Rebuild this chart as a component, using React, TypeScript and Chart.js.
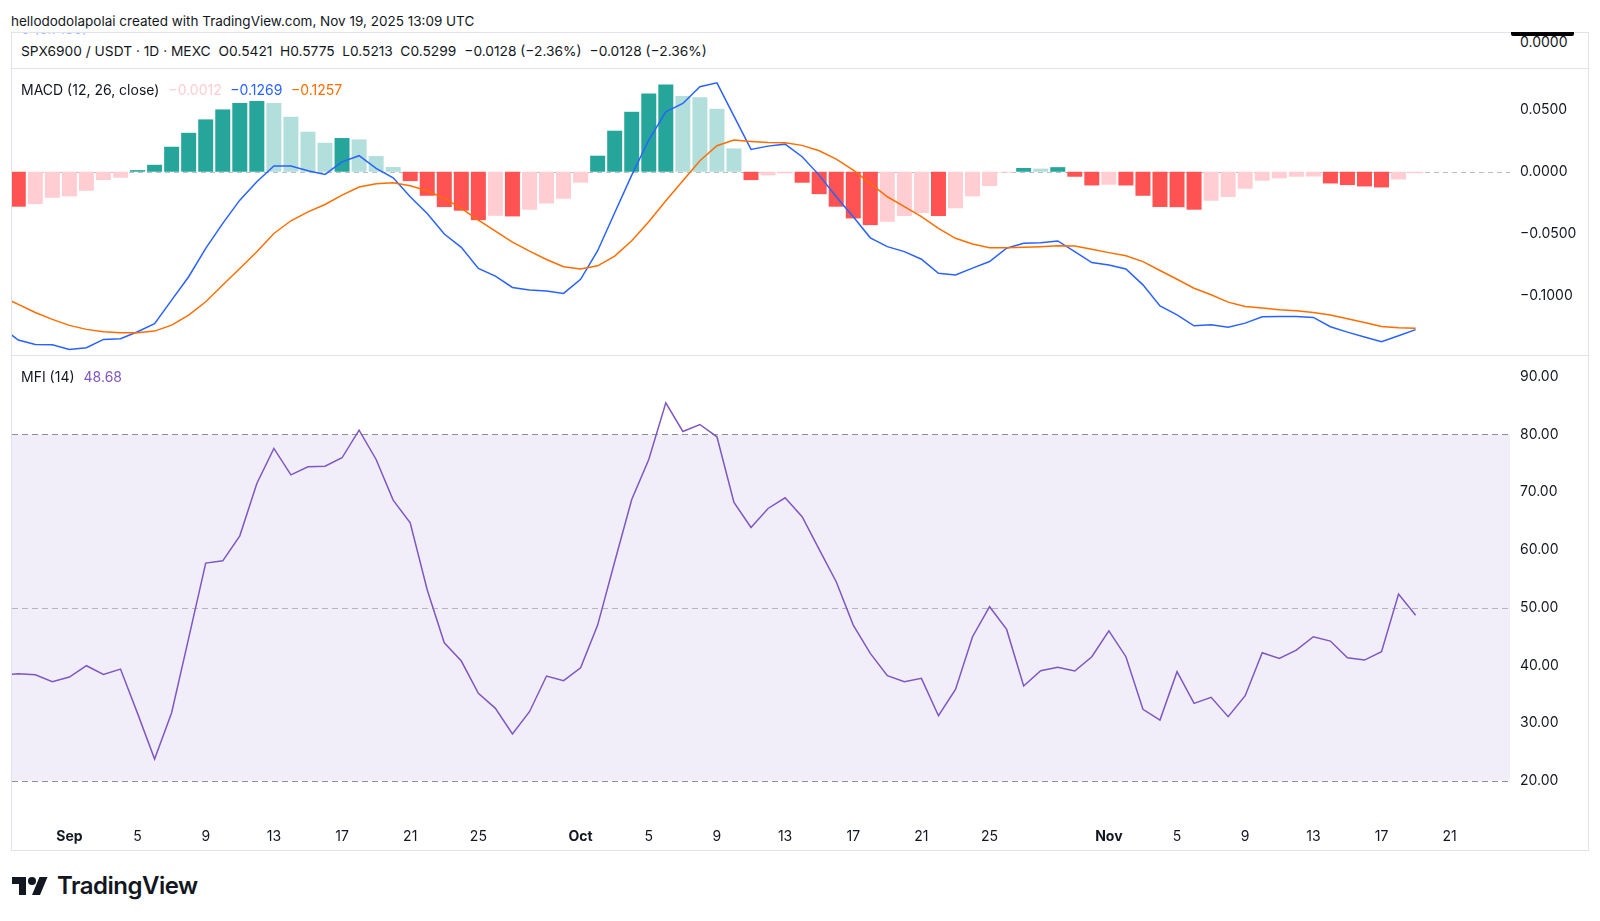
import React, { useEffect, useRef } from "react";
import { Chart, registerables } from "chart.js";

Chart.register(...registerables);

const FONT = "Inter, 'Noto Sans', sans-serif";
const TEXT = "#131722";

// Daily candles, first one on this date
const FIRST_DAY = "2025-08-28";

const MACD_HIST: (number | null)[] = [
  null, -0.0281, -0.026, -0.0209, -0.0198, -0.0153, -0.0067, -0.0048, 0.0013, 0.0056,
  0.0201, 0.0313, 0.0421, 0.0501, 0.0552, 0.0568, 0.0552, 0.0442, 0.0322, 0.0233,
  0.0271, 0.026, 0.0126, 0.0038, -0.0075, -0.0193, -0.0284, -0.0313, -0.0389, -0.0354,
  -0.0359, -0.0305, -0.0255, -0.0217, -0.0088, 0.0129, 0.033, 0.0482, 0.063, 0.0702,
  0.0608, 0.0598, 0.0506, 0.0188, -0.0067, -0.0029, -0.0013, -0.0088, -0.018, -0.0281,
  -0.0375, -0.0429, -0.0402, -0.0356, -0.0332, -0.0356, -0.0294, -0.0198, -0.0115, -0.0006,
  0.003, 0.0025, 0.0037, -0.004, -0.011, -0.0104, -0.011, -0.0193, -0.0283, -0.0285,
  -0.0305, -0.0233, -0.0203, -0.0136, -0.0072, -0.0053, -0.004, -0.0038, -0.0094, -0.0107,
  -0.0118, -0.0126, -0.0062, -0.0012,
];

const MACD_LINE: number[] = [
  -0.1246, -0.1353, -0.1388, -0.1391, -0.1428, -0.1415, -0.1348, -0.1342, -0.1286, -0.1222,
  -0.1032, -0.0844, -0.0616, -0.0415, -0.0228, -0.008, 0.0046, 0.0046, 0.0008, -0.0021,
  0.008, 0.0129, 0.0027, -0.0048, -0.0201, -0.0335, -0.0501, -0.0608, -0.0777, -0.0839,
  -0.093, -0.0951, -0.0959, -0.0978, -0.0865, -0.0635, -0.033, -0.0027, 0.0255, 0.0482,
  0.0549, 0.0683, 0.0715, 0.0447, 0.018, 0.0206, 0.0222, 0.0121, -0.0027, -0.0201,
  -0.0362, -0.0531, -0.0602, -0.0642, -0.0703, -0.0816, -0.0829, -0.0775, -0.0722, -0.0615,
  -0.0575, -0.057, -0.0556, -0.0642, -0.073, -0.0749, -0.0781, -0.0909, -0.1078, -0.115,
  -0.1238, -0.123, -0.1249, -0.1217, -0.1166, -0.1163, -0.1163, -0.1171, -0.1246, -0.1289,
  -0.1329, -0.1366, -0.1318, -0.1269,
];

const MACD_SIGNAL: number[] = [
  -0.0999, -0.1066, -0.1131, -0.1187, -0.1235, -0.1267, -0.1286, -0.1294, -0.1294, -0.1281,
  -0.1233, -0.1152, -0.1045, -0.0911, -0.0777, -0.0643, -0.0496, -0.0394, -0.0322, -0.0263,
  -0.0188, -0.0123, -0.0096, -0.0088, -0.0112, -0.0153, -0.0214, -0.0295, -0.0389, -0.0477,
  -0.0565, -0.0638, -0.0705, -0.0764, -0.0782, -0.0756, -0.0678, -0.0555, -0.0402, -0.0233,
  -0.0072, 0.0088, 0.0209, 0.0255, 0.0244, 0.0236, 0.0233, 0.0212, 0.0169, 0.0102,
  0.0013, -0.0094, -0.0201, -0.0281, -0.0361, -0.0455, -0.0535, -0.058, -0.061, -0.061,
  -0.0607, -0.0602, -0.0594, -0.0596, -0.0623, -0.065, -0.0676, -0.0722, -0.0794, -0.0864,
  -0.0936, -0.0989, -0.1048, -0.1083, -0.1096, -0.111, -0.1118, -0.1131, -0.1152, -0.1182,
  -0.1211, -0.1243, -0.1254, -0.1257,
];

const MFI_VALUES: number[] = [
  38.3, 38.55, 38.37, 37.16, 37.97, 39.93, 38.43, 39.35, 31.67, 23.76,
  31.79, 44.7, 57.71, 58.11, 62.44, 71.51, 77.58, 73.01, 74.4, 74.51,
  75.96, 80.75, 75.67, 68.63, 64.7, 53.04, 43.91, 40.74, 35.14, 32.54,
  28.09, 31.96, 38.14, 37.33, 39.58, 46.97, 57.94, 68.74, 75.67, 85.48,
  80.52, 81.73, 79.6, 68.22, 63.89, 67.18, 69.03, 65.74, 60.08, 54.48,
  46.97, 42.07, 38.2, 37.16, 37.74, 31.27, 35.83, 44.95, 50.15, 46.22,
  36.41, 39.06, 39.64, 39.01, 41.49, 45.99, 41.49, 32.37, 30.52, 38.89,
  33.41, 34.45, 31.1, 34.74, 42.18, 41.2, 42.64, 44.95, 44.2, 41.32,
  40.91, 42.36, 52.34, 48.68,
];

const X_TICK_DATES = [
  "2025-09-01", "2025-09-05", "2025-09-09", "2025-09-13", "2025-09-17", "2025-09-21", "2025-09-25",
  "2025-10-01", "2025-10-05", "2025-10-09", "2025-10-13", "2025-10-17", "2025-10-21", "2025-10-25",
  "2025-11-01", "2025-11-05", "2025-11-09", "2025-11-13", "2025-11-17", "2025-11-21",
];
const X_TICK_LABELS = [
  "Sep", "5", "9", "13", "17", "21", "25",
  "Oct", "5", "9", "13", "17", "21", "25",
  "Nov", "5", "9", "13", "17", "21",
];
const MONTH_LABELS = ["Sep", "Oct", "Nov"];

const MACD_TICKS = [0.05, 0, -0.05, -0.1];
const MFI_TICKS = [90, 80, 70, 60, 50, 40, 30, 20];
const MFI_LEVELS = [80, 50, 20];
const MFI_BAND = [20, 80];

// visible ranges
const X_MIN = 0.632;
const X_MAX = 88.54;
const MACD_MIN = -0.1473;
const MACD_MAX = 0.0826;
const MFI_MIN = 14.06;
const MFI_MAX = 93.6;

const dayIndex = (d: string) =>
  Math.round((Date.parse(d + "T00:00:00Z") - Date.parse(FIRST_DAY + "T00:00:00Z")) / 86400000);

const fmtSigned = (v: number, digits: number) => {
  const r = Number(v.toFixed(digits));
  return (r < 0 ? "\u2212" : "") + Math.abs(r).toFixed(digits);
};

const histColors = MACD_HIST.map((v, i) => {
  if (v == null) return "rgba(0,0,0,0)";
  const prev = i > 0 ? MACD_HIST[i - 1] : null;
  const rising = prev != null && prev < v;
  if (v >= 0) return rising ? "#26A69A" : "#B2DFDB";
  return rising ? "#FFCDD2" : "#FF5252";
});

const xScaleBase = (display: boolean): any => ({
  type: "linear",
  min: X_MIN,
  max: X_MAX,
  offset: false,
  display,
  grid: { display: false, drawTicks: false },
  border: { display: false },
  afterBuildTicks: (axis: any) => {
    axis.ticks = X_TICK_DATES.map((d) => ({ value: dayIndex(d) }));
  },
  afterFit: (axis: any) => {
    axis.height = display ? 35 : 0;
    axis.paddingLeft = 0;
    axis.paddingRight = 0;
  },
  ticks: {
    autoSkip: false,
    maxRotation: 0,
    padding: 13,
    color: TEXT,
    font: (ctx: any) => ({
      family: FONT,
      size: 14,
      weight: MONTH_LABELS.includes(X_TICK_LABELS[ctx.index]) ? "bold" : "normal",
    }),
    callback: (_v: any, i: number) => X_TICK_LABELS[i],
  },
});

const yScaleBase = (min: number, max: number, ticks: number[], fmt: (v: number) => string): any => ({
  position: "right",
  min,
  max,
  grid: { display: false, drawTicks: false },
  border: { display: false },
  afterBuildTicks: (axis: any) => {
    axis.ticks = ticks.map((v) => ({ value: v }));
  },
  afterFit: (axis: any) => {
    axis.width = 78;
    axis.paddingTop = 0;
    axis.paddingBottom = 0;
  },
  ticks: {
    padding: 10,
    color: TEXT,
    font: { family: FONT, size: 14 },
    callback: (v: any) => fmt(Number(v)),
  },
});

const macdZeroPlugin = {
  id: "macdZero",
  beforeDatasetsDraw(chart: any) {
    const { ctx, chartArea: a, scales } = chart;
    const py = Math.round(scales.y.getPixelForValue(0)) + 0.5;
    ctx.save();
    ctx.setLineDash([5, 4]);
    ctx.lineWidth = 1;
    ctx.strokeStyle = "rgba(120,123,134,0.5)";
    ctx.beginPath();
    ctx.moveTo(a.left, py);
    ctx.lineTo(a.right, py);
    ctx.stroke();
    ctx.restore();
  },
};

const mfiBandPlugin = {
  id: "mfiBand",
  beforeDatasetsDraw(chart: any) {
    const { ctx, chartArea: a, scales } = chart;
    const y = scales.y;
    const top = y.getPixelForValue(MFI_BAND[1]);
    const bot = y.getPixelForValue(MFI_BAND[0]);
    ctx.save();
    ctx.fillStyle = "rgba(126,87,194,0.1)";
    ctx.fillRect(a.left, top, a.right - a.left, bot - top);
    ctx.setLineDash([6, 4]);
    ctx.lineWidth = 1;
    MFI_LEVELS.forEach((lv) => {
      const py = Math.round(y.getPixelForValue(lv)) + 0.5;
      ctx.strokeStyle = lv === 50 ? "rgba(120,123,134,0.5)" : "rgba(120,123,134,0.85)";
      ctx.beginPath();
      ctx.moveTo(a.left, py);
      ctx.lineTo(a.right, py);
      ctx.stroke();
    });
    ctx.restore();
  },
};

export default function App() {
  const macdRef = useRef<HTMLCanvasElement>(null);
  const mfiRef = useRef<HTMLCanvasElement>(null);

  useEffect(() => {
    const histData = MACD_HIST.map((v, i) => ({ x: i, y: v })).filter((p) => p.y != null);
    const histCols = MACD_HIST.map((v, i) => ({ v, c: histColors[i] })).filter((p) => p.v != null).map((p) => p.c);

    const macdChart = new Chart(macdRef.current!, {
      type: "bar",
      data: {
        datasets: [
          {
            type: "line",
            data: MACD_SIGNAL.map((v, i) => ({ x: i, y: v })),
            borderColor: "#FF6D00",
            borderWidth: 1.5,
            pointRadius: 0,
            tension: 0,
            order: 0,
          } as any,
          {
            type: "line",
            data: MACD_LINE.map((v, i) => ({ x: i, y: v })),
            borderColor: "#2962FF",
            borderWidth: 1.5,
            pointRadius: 0,
            tension: 0,
            order: 1,
          } as any,
          {
            type: "bar",
            data: histData,
            backgroundColor: histCols,
            borderWidth: 0,
            barPercentage: 0.88,
            categoryPercentage: 1,
            clip: 0,
            order: 2,
          } as any,
        ],
      },
      options: {
        responsive: false,
        animation: false,
        events: [],
        layout: { padding: 0 },
        plugins: { legend: { display: false }, tooltip: { enabled: false } },
        scales: {
          x: xScaleBase(false),
          y: yScaleBase(MACD_MIN, MACD_MAX, MACD_TICKS, (v) => fmtSigned(v, 4)),
        },
      } as any,
      plugins: [macdZeroPlugin],
    });

    const mfiChart = new Chart(mfiRef.current!, {
      type: "line",
      data: {
        datasets: [
          {
            data: MFI_VALUES.map((v, i) => ({ x: i, y: v })),
            borderColor: "#7E57C2",
            borderWidth: 1.5,
            pointRadius: 0,
            tension: 0,
          },
        ],
      },
      options: {
        responsive: false,
        animation: false,
        events: [],
        layout: { padding: 0 },
        plugins: { legend: { display: false }, tooltip: { enabled: false } },
        scales: {
          x: xScaleBase(true),
          y: yScaleBase(MFI_MIN, MFI_MAX, MFI_TICKS, (v) => v.toFixed(2)),
        },
      } as any,
      plugins: [mfiBandPlugin],
    });

    return () => {
      macdChart.destroy();
      mfiChart.destroy();
    };
  }, []);

  const abs = (s: React.CSSProperties): React.CSSProperties => ({ position: "absolute", ...s });
  const sep = "#E0E3EB";

  return (
    <div
      style={{
        position: "fixed",
        left: 0,
        top: 0,
        width: 1600,
        height: 921,
        background: "#fff",
        fontFamily: FONT,
        color: TEXT,
        overflow: "hidden",
      }}
    >
      <div style={abs({ left: 11, top: 12, fontSize: 13.5, lineHeight: "18px", whiteSpace: "nowrap" })}>
        hellododolapolai created with TradingView.com, Nov 19, 2025 13:09 UTC
      </div>

      {/* frame */}
      <div
        style={abs({
          left: 11,
          top: 32,
          width: 1578,
          height: 819,
          border: `1px solid ${sep}`,
          boxSizing: "border-box",
        })}
      />
      <div style={abs({ left: 21, top: 33, height: 3, overflow: "hidden", width: 80 })}>
        <div style={{ marginTop: -12, fontSize: 14, lineHeight: "16px", color: "rgba(41,98,255,0.45)", whiteSpace: "nowrap" }}>
          0 (0.7130)
        </div>
      </div>
      <div style={abs({ left: 1511, top: 32, width: 63, height: 3.5, background: "#000", borderRadius: "0 0 2px 2px" })} />

      {/* symbol row */}
      <div style={abs({ left: 21, top: 42, fontSize: 13.75, lineHeight: "18px", whiteSpace: "nowrap" })}>
        <span>SPX6900 / USDT · 1D · MEXC</span>
        <span style={{ marginLeft: 8 }}>O0.5421</span>
        <span style={{ marginLeft: 7.5 }}>H0.5775</span>
        <span style={{ marginLeft: 7.5 }}>L0.5213</span>
        <span style={{ marginLeft: 7.5 }}>C0.5299</span>
        <span style={{ marginLeft: 8 }}>−0.0128 (−2.36%)</span>
        <span style={{ marginLeft: 8 }}>−0.0128 (−2.36%)</span>
      </div>
      <div style={abs({ left: 1520, top: 33, fontSize: 14, lineHeight: "18px" })}>0.0000</div>

      <div style={abs({ left: 11, top: 68, width: 1578, height: 1, background: sep })} />
      <canvas ref={macdRef} width={1576} height={286} style={abs({ left: 12, top: 69, width: 1576, height: 286, display: "block" })} />
      <div style={abs({ left: 11, top: 355, width: 1578, height: 1, background: sep })} />
      <canvas ref={mfiRef} width={1576} height={494} style={abs({ left: 12, top: 356, width: 1576, height: 494, display: "block" })} />

      {/* pane legends */}
      <div style={abs({ left: 21, top: 81, fontSize: 14, lineHeight: "18px", whiteSpace: "nowrap" })}>
        <span>MACD (12, 26, close)</span>
        <span style={{ marginLeft: 9, color: "#FFCDD2" }}>−0.0012</span>
        <span style={{ marginLeft: 8.5, color: "#2962FF" }}>−0.1269</span>
        <span style={{ marginLeft: 8.5, color: "#FF6D00" }}>−0.1257</span>
      </div>
      <div style={abs({ left: 21, top: 368, fontSize: 14, lineHeight: "18px", whiteSpace: "nowrap" })}>
        <span>MFI (14)</span>
        <span style={{ marginLeft: 9, color: "#7E57C2" }}>48.68</span>
      </div>

      {/* TradingView logo */}
      <svg width={36} height={28} viewBox="0 0 36 28" style={abs({ left: 12, top: 873 })}>
        <path d="M14 22H7V11H0V4h14v18zM28 22h-8l7.5-18h8L28 22z" fill={TEXT} />
        <circle cx="20" cy="8" r="4" fill={TEXT} />
      </svg>
      <div
        style={abs({
          left: 57,
          top: 871,
          fontSize: 24,
          lineHeight: "30px",
          fontWeight: 600,
          letterSpacing: -0.5,
          color: TEXT,
          whiteSpace: "nowrap",
        })}
      >
        TradingView
      </div>
    </div>
  );
}
